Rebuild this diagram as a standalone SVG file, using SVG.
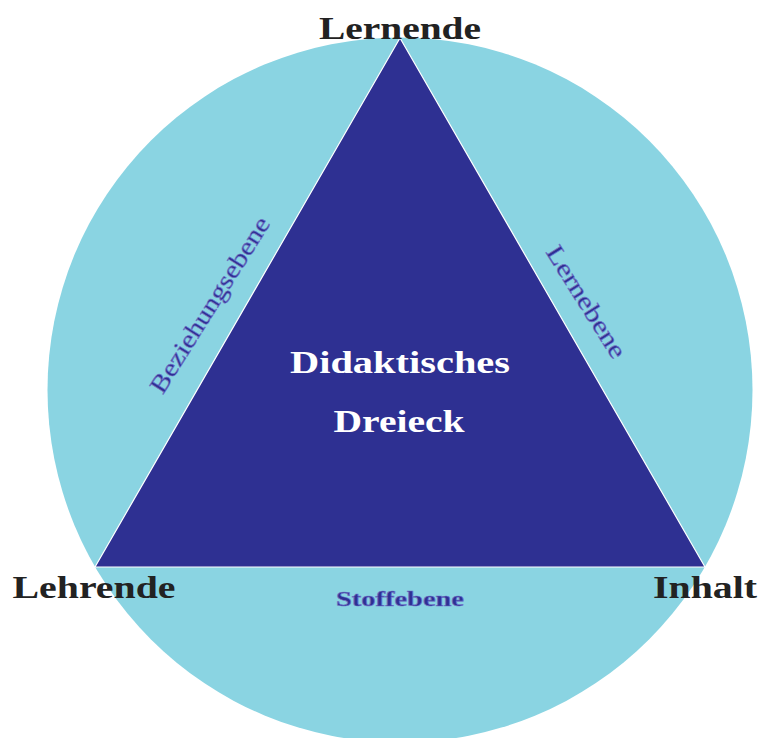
<svg xmlns="http://www.w3.org/2000/svg" width="760" height="738" viewBox="0 0 760 738">
<style>
.lab{font-family:"Liberation Serif","Times New Roman",serif;font-weight:bold;fill:#222222;font-size:32px;text-anchor:middle}
.side{font-family:"Liberation Serif","Times New Roman",serif;fill:#2E3092;stroke:#6f73c8;stroke-width:0.6;font-size:25px;text-anchor:middle}
.title{font-family:"Liberation Serif","Times New Roman",serif;font-weight:bold;fill:#ffffff;font-size:32px;text-anchor:middle}
</style>
<rect width="760" height="738" fill="#ffffff"/>
<g id="circle"><circle cx="400" cy="390" r="352.5" fill="#8AD4E2"/></g>
<g id="triangle"><polygon points="400,38 95,567 705,567" fill="#2E3092" stroke="#ffffff" stroke-width="1.2" stroke-linejoin="round"/>
<text class="title" x="400" y="373" textLength="220" lengthAdjust="spacingAndGlyphs">Didaktisches</text>
<text class="title" x="399" y="432" textLength="131" lengthAdjust="spacingAndGlyphs">Dreieck</text></g>
<g id="connectors">
<text class="side" transform="translate(210,305) rotate(-57.8)" y="8" textLength="203" lengthAdjust="spacingAndGlyphs">Beziehungsebene</text>
<text class="side" transform="translate(586,302) rotate(57.8)" y="8" textLength="128" lengthAdjust="spacingAndGlyphs">Lernebene</text>
<text class="side" x="400" y="606" style="font-weight:bold;font-size:20px" textLength="128" lengthAdjust="spacingAndGlyphs">Stoffebene</text>
</g>
<g id="lernende"><text class="lab" x="400" y="39" textLength="162" lengthAdjust="spacingAndGlyphs">Lernende</text></g>
<g id="lehrende"><text class="lab" x="94" y="598" textLength="163" lengthAdjust="spacingAndGlyphs">Lehrende</text></g>
<g id="inhalt"><text class="lab" x="705" y="598" textLength="104" lengthAdjust="spacingAndGlyphs">Inhalt</text></g>
</svg>
